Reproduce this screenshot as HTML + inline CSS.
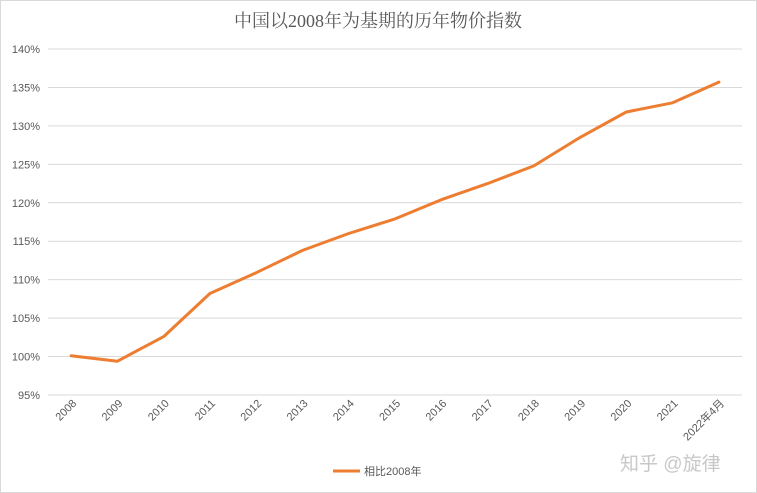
<!DOCTYPE html>
<html><head><meta charset="utf-8">
<style>
html,body{margin:0;padding:0;background:#fff;}
svg{display:block;font-family:"Liberation Sans","Noto Sans CJK SC",sans-serif;}
</style></head>
<body>
<svg id="chart" width="757" height="493" viewBox="0 0 757 493">
<rect x="0.5" y="0.5" width="756" height="492" fill="#fff" stroke="#d9d9d9"/>
<text x="378" y="27" text-anchor="middle" font-size="18" fill="#595959" font-family="'Liberation Serif','Noto Serif CJK SC',serif">中国以2008年为基期的历年物价指数</text>
<g id="grid"></g>
<g id="yticks"></g>
<g id="xticks"></g>
<g id="series"></g>
<g>
<line x1="333" y1="471" x2="360" y2="471" stroke="#ed7d31" stroke-width="3"/>
<text x="364" y="475" font-size="11" fill="#595959">相比2008年</text>
</g>
<text x="620" y="470" font-size="19" fill="#c8c8c8">知乎 @旋律</text>
</svg>
<script>
const categories=["2008","2009","2010","2011","2012","2013","2014","2015","2016","2017","2018","2019","2020","2021","2022年4月"];
const values=[100.1,99.4,102.6,108.2,110.9,113.8,116.0,117.9,120.4,122.5,124.8,128.5,131.8,133.0,135.7];
const yTicks=[95,100,105,110,115,120,125,130,135,140];
const NS="http://www.w3.org/2000/svg";
const x0=48,x1=742,yTop=49,yBot=395,yMin=95,yMax=140;
const step=(x1-x0)/categories.length;
function xs(i){return x0+step*(i+0.5);}
function ys(v){return yBot-(v-yMin)/(yMax-yMin)*(yBot-yTop);}
function mk(tag,attrs,parent){const e=document.createElementNS(NS,tag);for(const k in attrs)e.setAttribute(k,attrs[k]);parent.appendChild(e);return e;}
const grid=document.getElementById('grid'),yt=document.getElementById('yticks'),xt=document.getElementById('xticks'),ser=document.getElementById('series');
yTicks.forEach(t=>{
 const l=mk('line',{x1:x0,x2:x1,y1:ys(t),y2:ys(t),stroke:'#d9d9d9','stroke-width':1},grid);
 
 
 const tx=mk('text',{x:40,y:ys(t)+4,'text-anchor':'end','font-size':11,fill:'#595959'},yt);
 tx.textContent=t+'%';
 
 
});
categories.forEach((c,i)=>{
 const x=xs(i)+6,y=404;
 const tx=mk('text',{x:x,y:y,'text-anchor':'end','font-size':11,fill:'#595959',transform:`rotate(-45 ${x} ${y})`},xt);
 tx.textContent=c;
 
 
});
const pts=values.map((v,i)=>xs(i).toFixed(1)+','+ys(v).toFixed(1)).join(' ');
const pl=mk('polyline',{points:pts,fill:'none',stroke:'#ed7d31','stroke-width':3,'stroke-linejoin':'round','stroke-linecap':'round'},ser);


</script>
</body></html>
